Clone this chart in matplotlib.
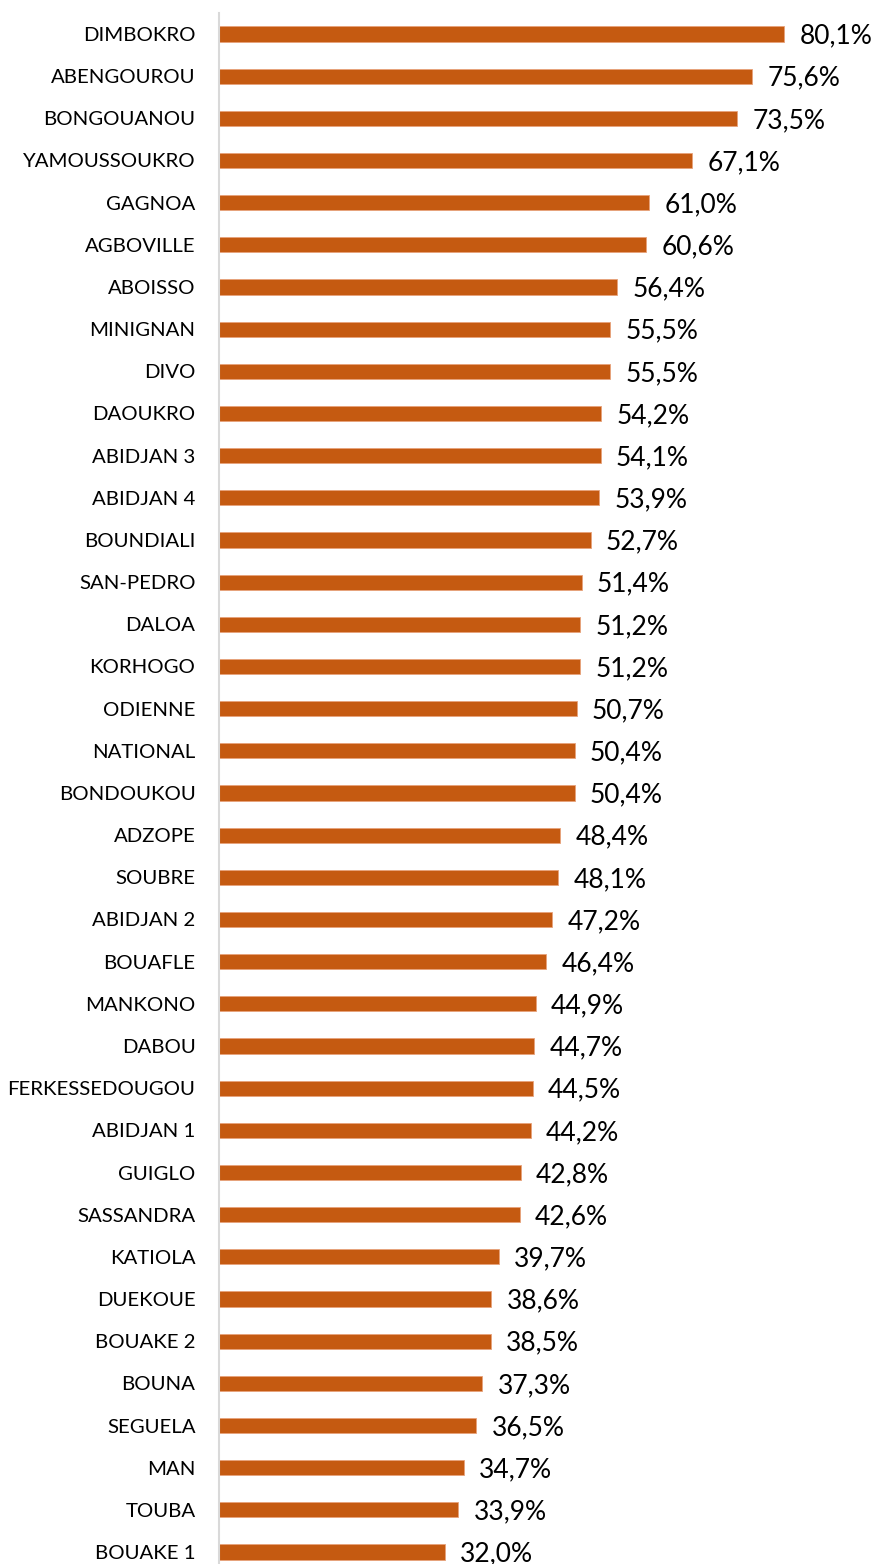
import numpy as np
import matplotlib.pyplot as plt

regions = ['DIMBOKRO', 'ABENGOUROU', 'BONGOUANOU', 'YAMOUSSOUKRO', 'GAGNOA', 'AGBOVILLE',
           'ABOISSO', 'MINIGNAN', 'DIVO', 'DAOUKRO', 'ABIDJAN 3', 'ABIDJAN 4', 'BOUNDIALI',
           'SAN-PEDRO', 'DALOA', 'KORHOGO', 'ODIENNE', 'NATIONAL', 'BONDOUKOU', 'ADZOPE',
           'SOUBRE', 'ABIDJAN 2', 'BOUAFLE', 'MANKONO', 'DABOU', 'FERKESSEDOUGOU',
           'ABIDJAN 1', 'GUIGLO', 'SASSANDRA', 'KATIOLA', 'DUEKOUE', 'BOUAKE 2', 'BOUNA',
           'SEGUELA', 'MAN', 'TOUBA', 'BOUAKE 1']
rates = [80.1, 75.6, 73.5, 67.1, 61.0, 60.6, 56.4, 55.5, 55.5, 54.2, 54.1, 53.9, 52.7,
         51.4, 51.2, 51.2, 50.7, 50.4, 50.4, 48.4, 48.1, 47.2, 46.4, 44.9, 44.7, 44.5,
         44.2, 42.8, 42.6, 39.7, 38.6, 38.5, 37.3, 36.5, 34.7, 33.9, 32.0]

plt.rcParams['font.family'] = ['Lato', 'DejaVu Sans']

W, H = 875, 1564
fig = plt.figure(figsize=(W / 100, H / 100), dpi=100)
ax = fig.add_axes([219 / W, 0, 1 - 219 / W, 1 - 13 / H])

y = np.arange(len(regions))
ax.barh(y, rates, height=0.36, color='#C55A11', edgecolor='#E8A27A', linewidth=0.6)

ax.set_xlim(0, (W - 219) / 7.054)
ax.set_ylim(36 + 12 / 42.17, -21 / 42.17)
ax.set_yticks(y)
ax.set_yticklabels(regions, fontsize=14.7)
ax.tick_params(axis='y', length=0, pad=17)
ax.set_xticks([])

for s in ['top', 'right', 'bottom']:
    ax.spines[s].set_visible(False)
ax.spines['left'].set_color('#D9D9D9')
ax.spines['left'].set_linewidth(1.5)

for i, v in enumerate(rates):
    ax.annotate(f'{v:.1f}%'.replace('.', ','), (v, i), xytext=(11, -1.5),
                textcoords='offset points', va='center', ha='left', fontsize=19)

fig.savefig('out.png', dpi=100)
